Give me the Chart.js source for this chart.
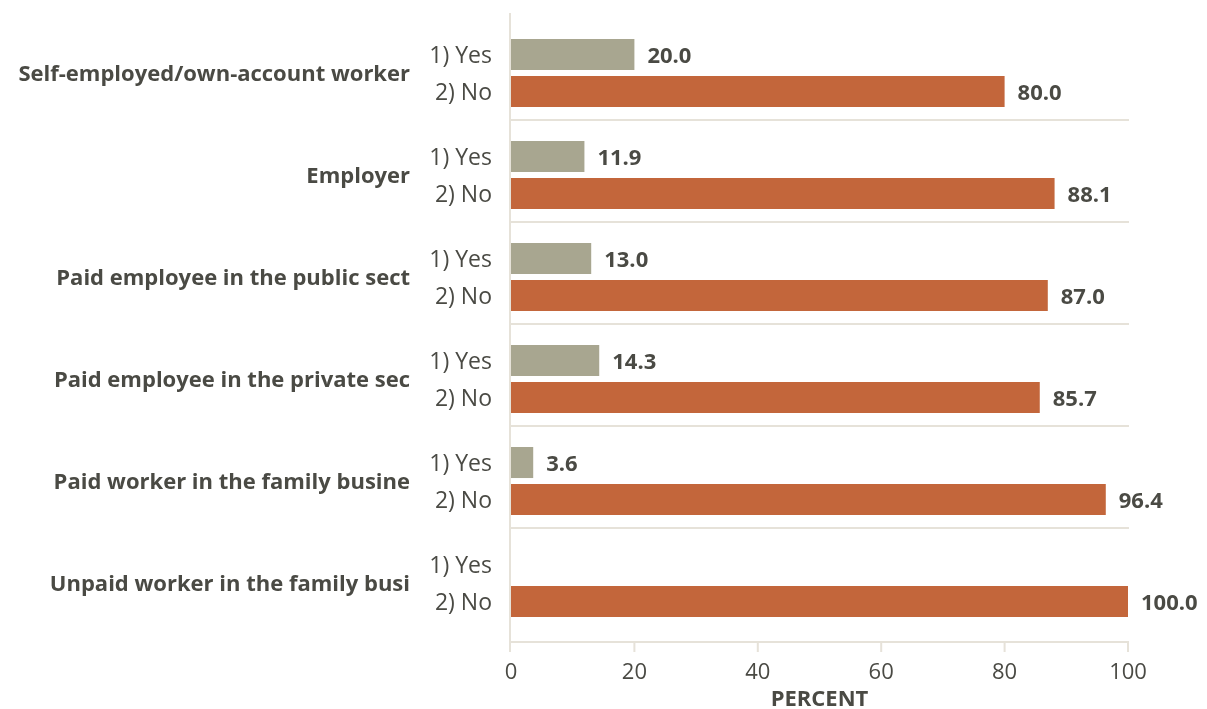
<!DOCTYPE html>
<html>
<head>
<meta charset="utf-8">
<script src="https://cdn.jsdelivr.net/npm/chart.js@4.4.0/dist/chart.umd.min.js"></script>
<style>
  html, body { margin: 0; padding: 0; background: #ffffff; }
  #wrap { width: 1207px; height: 709px; }
</style>
</head>
<body>
<div id="wrap"><canvas id="myChart" width="1207" height="709"></canvas></div>
<script>
// class of worker (group) and the two answers inside each group
var groups = [
  "Self-employed/own-account worker",
  "Employer",
  "Paid employee in the public sect",
  "Paid employee in the private sec",
  "Paid worker in the family busine",
  "Unpaid worker in the family busi"
];
var answers = ["1) Yes", "2) No"];
var yesPct = [20.0, 11.9, 13.0, 14.3, 3.6, null];
var noPct = [80.0, 88.1, 87.0, 85.7, 96.4, 100.0];
var xTicks = [0, 20, 40, 60, 80, 100];

var FONT = "'Open Sans', 'Noto Sans', sans-serif";
var TEXT = "#4a4a44";
var LINE = "#e6e2d9";
var NUDGE = 2; // Open Sans sits a little high on a "middle" baseline

// axis lines, tick marks, group separators and all the side labels
var decor = {
  id: "decor",
  beforeDatasetsDraw: function (chart) {
    var ctx = chart.ctx;
    var xs = chart.scales.x, ys = chart.scales.y;
    var x0 = xs.getPixelForValue(0), x1 = xs.getPixelForValue(100);
    var bottom = chart.chartArea.bottom + 8;
    ctx.save();
    ctx.strokeStyle = LINE;
    ctx.lineWidth = 2;
    ctx.beginPath();
    ctx.moveTo(x0 - 1, 13); ctx.lineTo(x0 - 1, bottom + 10);
    ctx.moveTo(x0 - 2, bottom); ctx.lineTo(x1 + 1, bottom);
    xTicks.forEach(function (v) {
      var px = xs.getPixelForValue(v);
      if (v == 0) px = px - 1;
      ctx.moveTo(px, bottom); ctx.lineTo(px, bottom + 10);
    });
    for (var i = 0; i < groups.length - 1; i++) {
      var sy = ys.getPixelForValue(i) + 47;
      ctx.moveTo(x0, sy); ctx.lineTo(x1 + 1, sy);
    }
    ctx.stroke();
    ctx.restore();
  },
  afterDatasetsDraw: function (chart) {
    var ctx = chart.ctx;
    var ys = chart.scales.y;
    var x0 = chart.scales.x.getPixelForValue(0);
    ctx.save();
    ctx.fillStyle = TEXT;
    ctx.textBaseline = "middle";
    // group names
    ctx.textAlign = "right";
    ctx.font = "bold 22px " + FONT;
    groups.forEach(function (g, i) {
      ctx.fillText(g, 410, ys.getPixelForValue(i) + NUDGE);
    });
    // answer names next to each bar, values at the bar ends
    chart.data.datasets.forEach(function (ds, d) {
      var meta = chart.getDatasetMeta(d);
      meta.data.forEach(function (bar, i) {
        ctx.textAlign = "right";
        ctx.font = "23px " + FONT;
        ctx.fillText(answers[d], x0 - 19, bar.y + NUDGE);
        var v = ds.data[i];
        if (v == null) return;
        ctx.textAlign = "left";
        ctx.font = "bold 22px " + FONT;
        ctx.fillText(v.toFixed(1), bar.x + 13, bar.y + NUDGE);
      });
    });
    ctx.restore();
  }
};

var ctx = document.getElementById("myChart").getContext("2d");
var myChart = new Chart(ctx, {
  type: "bar",
  data: {
    labels: groups,
    datasets: [
      { label: answers[0], data: yesPct, backgroundColor: "#a8a690" },
      { label: answers[1], data: noPct, backgroundColor: "#c3663b" }
    ]
  },
  options: {
    responsive: false,
    animation: false,
    indexAxis: "y",
    categoryPercentage: 0.725,
    barPercentage: 0.84,
    layout: { padding: { left: 511, right: 79, top: 22, bottom: 0 } },
    plugins: { legend: { display: false }, tooltip: { enabled: false } },
    scales: {
      y: { display: false },
      x: {
        min: 0,
        max: 100,
        afterBuildTicks: function (axis) {
          axis.ticks = xTicks.map(function (v) { return { value: v }; });
        },
        afterFit: function (axis) {
          axis.height = 75;
        },
        grid: { display: false, drawTicks: false },
        border: { display: false },
        ticks: { padding: 28, color: TEXT, font: { family: FONT, size: 22, lineHeight: 1 } },
        title: {
          display: true,
          text: "PERCENT",
          color: TEXT,
          font: { family: FONT, size: 22, weight: "bold", lineHeight: 1 },
          padding: { top: 8, bottom: -2 }
        }
      }
    }
  },
  plugins: [decor]
});
</script>
</body>
</html>
